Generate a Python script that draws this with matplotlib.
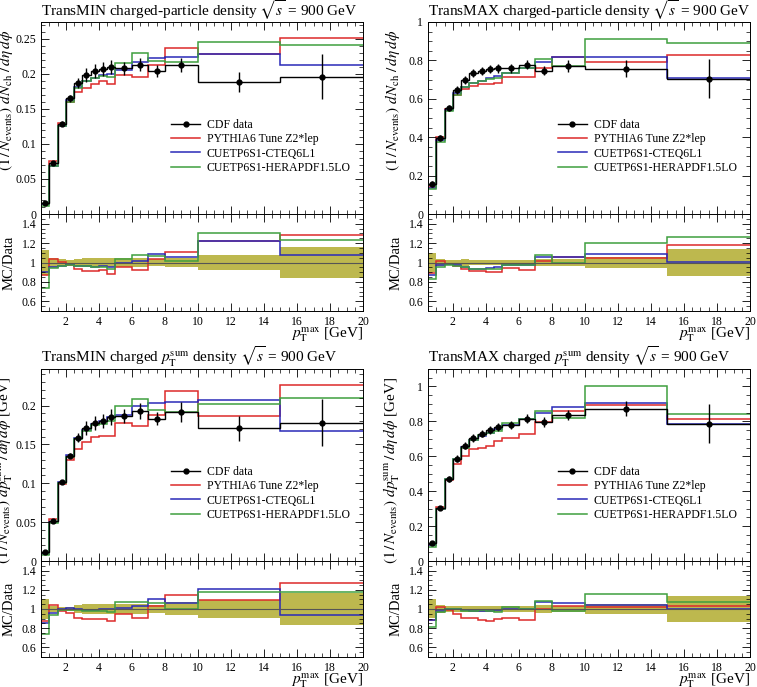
import numpy as np
from matplotlib import pyplot as plt
from matplotlib.lines import Line2D
from matplotlib.ticker import MultipleLocator, FuncFormatter

plt.rcParams['font.family'] = ['Liberation Serif', 'DejaVu Serif']
plt.rcParams['mathtext.fontset'] = 'stix'

# pT max bin edges [GeV]
edges = [0.5, 1.0, 1.5, 2.0, 2.5, 3.0, 3.5, 4.0, 4.5, 5.0, 6.0, 7.0, 8.0, 10.0, 15.0, 20.0]

labels = ['CDF data', 'PYTHIA6 Tune Z2*lep', 'CUETP6S1-CTEQ6L1', 'CUETP6S1-HERAPDF1.5LO']

# TransMIN charged-particle density
min_nch_data = [0.016, 0.0724, 0.129, 0.165, 0.187, 0.198, 0.204, 0.207, 0.210, 0.208, 0.213, 0.204, 0.213, 0.188, 0.196]
min_nch_err = [0.002, 0.003, 0.004, 0.005, 0.007, 0.010, 0.010, 0.010, 0.010, 0.009, 0.009, 0.008, 0.010, 0.014, 0.032]
min_nch_z2 = [0.0139, 0.0753, 0.130, 0.160, 0.174, 0.180, 0.186, 0.190, 0.185, 0.198, 0.196, 0.212, 0.237, 0.229, 0.251]
min_nch_cteq = [0.0144, 0.0688, 0.125, 0.162, 0.181, 0.190, 0.194, 0.199, 0.200, 0.206, 0.217, 0.222, 0.224, 0.229, 0.212]
min_nch_hera = [0.0118, 0.0680, 0.125, 0.160, 0.180, 0.190, 0.194, 0.197, 0.195, 0.216, 0.230, 0.218, 0.217, 0.246, 0.241]

# TransMAX charged-particle density
max_nch_data = [0.158, 0.395, 0.552, 0.647, 0.699, 0.733, 0.744, 0.754, 0.759, 0.759, 0.777, 0.747, 0.772, 0.756, 0.705]
max_nch_err = [0.016, 0.016, 0.017, 0.020, 0.022, 0.022, 0.022, 0.022, 0.023, 0.023, 0.023, 0.025, 0.030, 0.045, 0.100]
max_nch_z2 = [0.141, 0.403, 0.546, 0.621, 0.650, 0.667, 0.677, 0.679, 0.683, 0.713, 0.715, 0.762, 0.818, 0.794, 0.830]
max_nch_cteq = [0.138, 0.383, 0.541, 0.628, 0.664, 0.682, 0.692, 0.709, 0.721, 0.736, 0.761, 0.792, 0.818, 0.819, 0.707]
max_nch_hera = [0.131, 0.375, 0.535, 0.621, 0.664, 0.682, 0.692, 0.701, 0.706, 0.736, 0.761, 0.807, 0.772, 0.910, 0.893]

# TransMIN charged pTsum density
min_pt_data = [0.011, 0.052, 0.101, 0.1355, 0.1585, 0.1705, 0.178, 0.180, 0.185, 0.186, 0.193, 0.183, 0.192, 0.171, 0.178]
min_pt_err = [0.0012, 0.0015, 0.002, 0.003, 0.006, 0.009, 0.009, 0.009, 0.010, 0.009, 0.010, 0.0085, 0.013, 0.016, 0.030]
min_pt_z2 = [0.0096, 0.054, 0.099, 0.130, 0.144, 0.153, 0.160, 0.161, 0.161, 0.177, 0.174, 0.188, 0.219, 0.187, 0.226]
min_pt_cteq = [0.0094, 0.050, 0.101, 0.137, 0.1585, 0.169, 0.176, 0.180, 0.185, 0.188, 0.199, 0.203, 0.204, 0.207, 0.167]
min_pt_hera = [0.0081, 0.049, 0.100, 0.134, 0.157, 0.167, 0.1745, 0.1765, 0.1795, 0.199, 0.208, 0.194, 0.192, 0.202, 0.210]

# TransMAX charged pTsum density
max_pt_data = [0.101, 0.305, 0.470, 0.587, 0.661, 0.705, 0.730, 0.749, 0.766, 0.777, 0.815, 0.795, 0.836, 0.873, 0.787]
max_pt_err = [0.010, 0.012, 0.015, 0.018, 0.020, 0.021, 0.022, 0.022, 0.023, 0.023, 0.025, 0.030, 0.030, 0.043, 0.110]
max_pt_z2 = [0.089, 0.311, 0.465, 0.558, 0.602, 0.642, 0.650, 0.659, 0.689, 0.707, 0.725, 0.794, 0.861, 0.892, 0.813]
max_pt_cteq = [0.089, 0.299, 0.470, 0.587, 0.654, 0.691, 0.715, 0.734, 0.758, 0.777, 0.815, 0.850, 0.885, 0.908, 0.787]
max_pt_hera = [0.082, 0.296, 0.470, 0.587, 0.648, 0.691, 0.723, 0.734, 0.743, 0.793, 0.815, 0.858, 0.817, 1.005, 0.842]

colors = ['#dd2a2a', '#2a2ab8', '#3f9f3f']
band_color = '#bdb84e'

nch_label = r'$(1\,/\,N_\mathrm{events})\ dN_\mathrm{ch}\ /\,d\eta\,d\phi$'
pt_label = r'$(1\,/\,N_\mathrm{events})\ dp_\mathrm{T}^\mathrm{sum}\,/\,d\eta\,d\phi$ [GeV]'

fmt = FuncFormatter(lambda v, p: '%g' % round(v, 4))


def style_axes(ax):
    ax.tick_params(which='both', direction='in', top=True, right=True, labelsize=8.5)
    ax.tick_params(which='major', length=6, width=0.6)
    ax.tick_params(which='minor', length=3, width=0.5)
    ax.xaxis.set_major_locator(MultipleLocator(2))
    ax.xaxis.set_minor_locator(MultipleLocator(0.5))
    for s in ax.spines.values():
        s.set_linewidth(0.7)


def panel(fig, left, rbottom, rheight, title, ylabel, ytop, ymaj, ymin, data, err, mcs):
    w = 0.4254
    ax = fig.add_axes([left, rbottom + rheight, w, 0.2795])
    rax = fig.add_axes([left, rbottom, w, rheight])
    edges_a = np.array(edges)
    cent = 0.5 * (edges_a[1:] + edges_a[:-1])
    data = np.array(data)
    err = np.array(err)

    for mc, c in zip(mcs, colors):
        ax.stairs(mc, edges_a, baseline=None, color=c, lw=1.1)
    ax.stairs(data, edges_a, baseline=None, color='black', lw=1.0)
    ax.errorbar(cent, data, yerr=err, fmt='o', color='black', ms=3.5, elinewidth=1.0, capsize=0)

    ax.set_xlim(0.5, 20)
    ax.set_ylim(0, ytop)
    style_axes(ax)
    ax.tick_params(labelbottom=False)
    ax.yaxis.set_major_locator(MultipleLocator(ymaj))
    ax.yaxis.set_minor_locator(MultipleLocator(ymin))
    ax.yaxis.set_major_formatter(fmt)
    ax.set_title(title, loc='left', fontsize=11, pad=4)
    ax.set_ylabel(ylabel, loc='top', fontsize=11)
    ax.yaxis.set_label_coords(-0.08, 0.96)

    handles = [Line2D([], [], color='black', marker='o', ms=3.5, lw=1.0)]
    handles += [Line2D([], [], color=c, lw=1.1) for c in colors]
    ax.legend(handles, labels, loc='upper left', bbox_to_anchor=(0.39, 0.52), frameon=False,
              fontsize=8.5, handlelength=2.4, handletextpad=0.6, labelspacing=0.2, borderaxespad=0)

    rel = err / data
    rax.stairs(1 + rel, edges_a, baseline=1 - rel, fill=True, color=band_color, lw=0)
    rax.axhline(1, color='#555555', lw=0.8)
    for mc, c in zip(mcs, colors):
        rax.stairs(np.array(mc) / data, edges_a, baseline=None, color=c, lw=1.1)
    rax.set_xlim(0.5, 20)
    rax.set_ylim(0.5, 1.5)
    style_axes(rax)
    rax.yaxis.set_major_locator(MultipleLocator(0.2))
    rax.yaxis.set_minor_locator(MultipleLocator(0.05))
    rax.yaxis.set_major_formatter(fmt)
    rax.xaxis.set_major_formatter(fmt)
    rax.set_ylabel('MC/Data', fontsize=10.5)
    rax.yaxis.set_label_coords(-0.08, 0.5)
    rax.set_xlabel(r'$p_\mathrm{T}^\mathrm{max}$ [GeV]', loc='right', fontsize=11)
    rax.xaxis.set_label_coords(1.0, -0.15)


fig = plt.figure(figsize=(7.57, 6.87), dpi=100)

panel(fig, 0.0542, 0.5473, 0.1412, r'TransMIN charged-particle density $\sqrt{s}$ = 900 GeV', nch_label,
      0.274, 0.05, 0.01, min_nch_data, min_nch_err, [min_nch_z2, min_nch_cteq, min_nch_hera])
panel(fig, 0.5654, 0.5473, 0.1412, r'TransMAX charged-particle density $\sqrt{s}$ = 900 GeV', nch_label,
      1.0, 0.2, 0.05, max_nch_data, max_nch_err, [max_nch_z2, max_nch_cteq, max_nch_hera])
panel(fig, 0.0542, 0.0437, 0.1397, r'TransMIN charged $p_\mathrm{T}^\mathrm{sum}$ density $\sqrt{s}$ = 900 GeV', pt_label,
      0.247, 0.05, 0.01, min_pt_data, min_pt_err, [min_pt_z2, min_pt_cteq, min_pt_hera])
panel(fig, 0.5654, 0.0437, 0.1397, r'TransMAX charged $p_\mathrm{T}^\mathrm{sum}$ density $\sqrt{s}$ = 900 GeV', pt_label,
      1.1, 0.2, 0.05, max_pt_data, max_pt_err, [max_pt_z2, max_pt_cteq, max_pt_hera])

fig.savefig('out.png', dpi=100)
